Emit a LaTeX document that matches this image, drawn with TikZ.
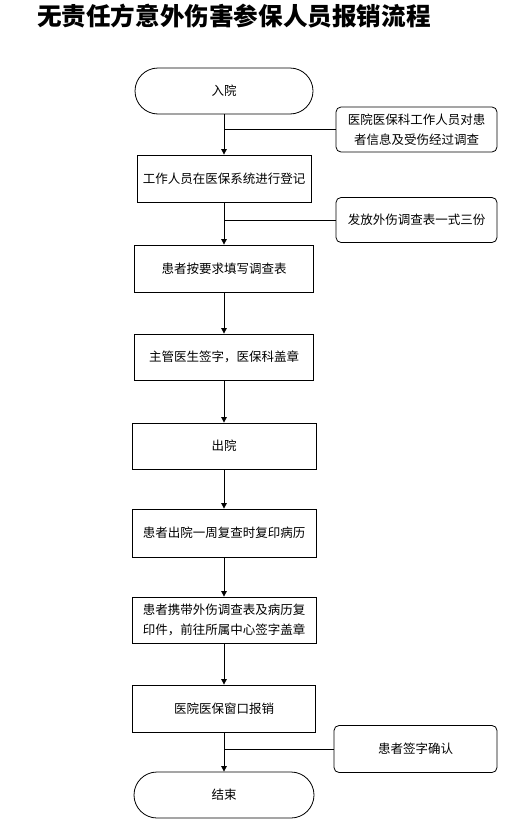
\documentclass[tikz,border=0pt]{standalone}
\usepackage{fontspec}
\newfontfamily\cjk{Noto Sans CJK SC}
\usetikzlibrary{positioning}
\usetikzlibrary{arrows.meta}
\tikzstyle{stepbox}=[rectangle, draw, black, line width=0.8pt, minimum width=182pt, minimum height=47pt,
    inner sep=2pt, align=center, font=\cjk\fontsize{12.5}{19.5}\selectfont]
\tikzstyle{terminal}=[stepbox, rounded corners=23pt, minimum width=178pt, minimum height=46pt]
\tikzstyle{notebox}=[stepbox, rounded corners=5pt, minimum width=161pt, minimum height=45pt]
\tikzstyle{flow}=[draw, black, line width=0.8pt, -{Triangle[length=5.5pt, width=5.5pt]}]
\tikzstyle{branch}=[draw, black, line width=0.8pt]

\begin{document}
\begin{tikzpicture}[x=1pt, y=-1pt]
    \useasboundingbox (0,0) rectangle (504,822);
    \node[font=\cjk\bfseries\fontsize{24.6}{28}\selectfont, inner sep=0pt] (title) at (234,16) {无责任方意外伤害参保人员报销流程};
    % main column
    \node[terminal] (start) at (224,91) {入院};
    \node[stepbox, minimum width=174pt] (reg) at (224,178.5) {工作人员在医保系统进行登记};
    \node[stepbox, minimum width=179pt] (fill) at (224,268.5) {患者按要求填写调查表};
    \node[stepbox, minimum width=179pt, minimum height=46pt] (sign) at (224,357) {主管医生签字，医保科盖章};
    \node[stepbox, minimum width=184pt, minimum height=46pt] (out) at (224,446) {出院};
    \node[stepbox, minimum width=184pt, minimum height=48pt] (copy) at (224,533) {患者出院一周复查时复印病历};
    \node[stepbox, minimum width=184pt, minimum height=46pt] (center) at (224,620)
        {患者携带外伤调查表及病历复\\印件，前往所属中心签字盖章};
    \node[stepbox, minimum width=183pt] (pay) at (224,708.5) {医院医保窗口报销};
    \node[terminal, minimum width=180pt] (end) at (224,795) {结束};
    % side notes
    \node[notebox] (note1) at (416.5,129.5) {医院医保科工作人员对患\\者信息及受伤经过调查};
    \node[notebox] (note2) at (416.5,220) {发放外伤调查表一式三份};
    \node[notebox, minimum width=163pt, minimum height=47pt] (note3) at (415.5,749) {患者签字确认};
    % connectors
    \path[flow] (start) -- (reg);
    \path[flow] (reg) -- (fill);
    \path[flow] (fill) -- (sign);
    \path[flow] (sign) -- (out);
    \path[flow] (out) -- (copy);
    \path[flow] (copy) -- (center);
    \path[flow] (center) -- (pay);
    \path[flow] (pay) -- (end);
    \path[branch] (note1.west) -- (note1.west -| start.south);
    \path[branch] (note2.west) -- (note2.west -| reg.south);
    \path[branch] (note3.west) -- (note3.west -| pay.south);
\end{tikzpicture}
\end{document}
